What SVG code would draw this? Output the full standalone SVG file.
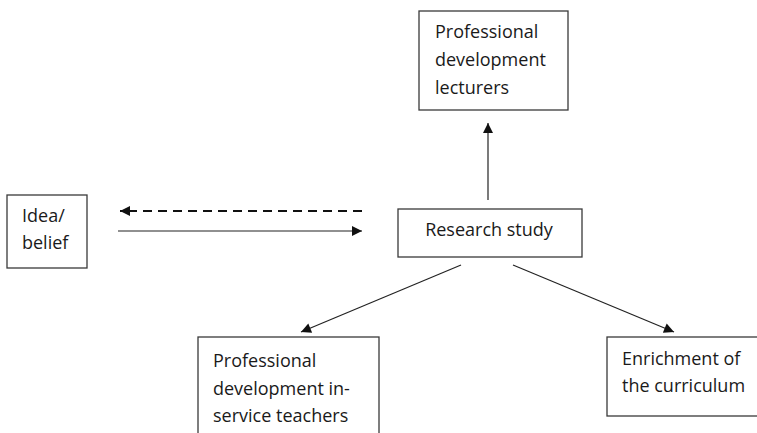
<svg xmlns="http://www.w3.org/2000/svg" width="757" height="433" viewBox="0 0 757 433">
<style>
  .box{fill:#fff;stroke:#3a3a3a;stroke-width:1.3}
  .t{font-family:"Open Sans","Liberation Sans",sans-serif;font-size:18px;fill:#1a1a1a}
  .c{fill:none;stroke:#222;stroke-width:1.2}
  .d{fill:none;stroke:#111;stroke-width:2;stroke-dasharray:9 6}
</style>
<defs>
  <marker id="ah" viewBox="0 0 10 10" refX="10" refY="5" markerWidth="11" markerHeight="10" markerUnits="userSpaceOnUse" orient="auto">
    <path d="M0,0 L10,5 L0,10 z" fill="#111"/>
  </marker>
</defs>
<rect width="757" height="433" fill="#fff"/>
<g id="connectors">
  <path class="d" d="M362,211 L120,211" marker-end="url(#ah)"/>
  <path class="c" d="M118,231 L362,231" marker-end="url(#ah)"/>
  <path class="c" d="M488,200 L488,123" marker-end="url(#ah)"/>
  <path class="c" d="M461,265 L301,332" marker-end="url(#ah)"/>
  <path class="c" d="M513,265 L674,332" marker-end="url(#ah)"/>
</g>
<g id="lecturers">
  <rect class="box" x="419" y="11" width="149" height="99"/>
  <text class="t" x="435" y="38">Professional</text>
  <text class="t" x="435" y="66">development</text>
  <text class="t" x="435" y="94">lecturers</text>
</g>
<g id="idea">
  <rect class="box" x="7" y="195" width="80" height="73"/>
  <text class="t" x="22" y="222">Idea/</text>
  <text class="t" x="22" y="249">belief</text>
</g>
<g id="research">
  <rect class="box" x="398" y="209" width="184" height="48"/>
  <text class="t" x="489" y="236" text-anchor="middle">Research study</text>
</g>
<g id="inservice">
  <rect class="box" x="198" y="337" width="181" height="110"/>
  <text class="t" x="213" y="367">Professional</text>
  <text class="t" x="213" y="395">development in-</text>
  <text class="t" x="213" y="422">service teachers</text>
</g>
<g id="enrichment">
  <rect class="box" x="607" y="337" width="160" height="79"/>
  <text class="t" x="622" y="365">Enrichment of</text>
  <text class="t" x="622" y="392">the curriculum</text>
</g>
</svg>
